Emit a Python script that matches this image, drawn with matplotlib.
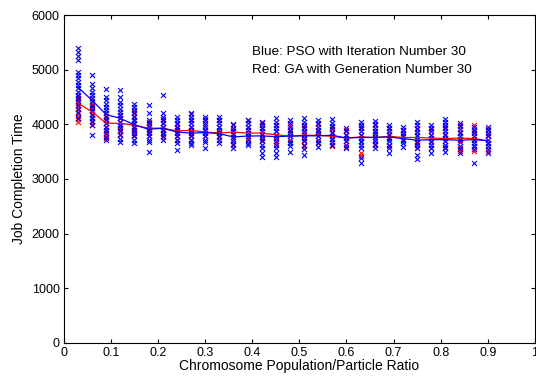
import matplotlib.pyplot as plt
import numpy as np

plt.rcParams['font.family'] = ['Liberation Sans', 'DejaVu Sans']

ratio = [0.03, 0.06, 0.09, 0.12, 0.15, 0.18, 0.21, 0.24, 0.27, 0.30,
         0.33, 0.36, 0.39, 0.42, 0.45, 0.48, 0.51, 0.54, 0.57, 0.60,
         0.63, 0.66, 0.69, 0.72, 0.75, 0.78, 0.81, 0.84, 0.87, 0.90]

# mean curves
pso_mean = [4680, 4440, 4180, 4110, 3990, 3910, 3930, 3860, 3840, 3850,
            3830, 3770, 3785, 3790, 3775, 3785, 3790, 3790, 3800, 3750,
            3760, 3760, 3770, 3740, 3710, 3720, 3720, 3710, 3720, 3700]
ga_mean = [4390, 4230, 4020, 4020, 3985, 3930, 3930, 3880, 3890, 3860,
           3840, 3860, 3840, 3840, 3810, 3785, 3800, 3800, 3780, 3750,
           3770, 3760, 3780, 3760, 3760, 3750, 3740, 3750, 3740, 3700]

# individual runs (blue = PSO)
pso_runs = [
    [5390, 5320, 5250, 5170, 4960, 4900, 4840, 4780, 4720, 4660, 4600, 4540, 4480, 4420, 4350, 4280, 4200, 4120],
    [4900, 4730, 4660, 4600, 4540, 4480, 4420, 4360, 4300, 4240, 4180, 4120, 4060, 3990, 3800],
    [4650, 4500, 4440, 4380, 4320, 4260, 4200, 4140, 4080, 4020, 3960, 3900, 3840, 3770, 3710],
    [4620, 4500, 4410, 4350, 4290, 4230, 4170, 4110, 4050, 3990, 3930, 3870, 3800, 3740, 3680],
    [4380, 4320, 4260, 4200, 4140, 4080, 4020, 3960, 3900, 3840, 3780, 3720, 3660],
    [4350, 4200, 4080, 4020, 3960, 3900, 3840, 3780, 3720, 3680, 3500],
    [4530, 4200, 4140, 4080, 4020, 3960, 3900, 3840, 3780, 3710],
    [4140, 4080, 4020, 3960, 3900, 3840, 3780, 3720, 3650, 3530],
    [4200, 4140, 4080, 4020, 3960, 3900, 3840, 3780, 3720, 3660, 3620],
    [4140, 4080, 4020, 3960, 3900, 3840, 3780, 3720, 3680, 3570],
    [4140, 4080, 4020, 3960, 3900, 3840, 3780, 3720, 3650],
    [4000, 3940, 3880, 3820, 3760, 3700, 3640, 3570],
    [4080, 4020, 3960, 3900, 3840, 3780, 3720, 3660, 3620],
    [4050, 3990, 3930, 3870, 3810, 3750, 3690, 3630, 3560, 3480, 3410],
    [4110, 4050, 3990, 3930, 3870, 3810, 3750, 3690, 3630, 3560, 3480, 3410],
    [4080, 4020, 3960, 3900, 3840, 3780, 3720, 3660, 3600, 3500],
    [4110, 4050, 3990, 3930, 3870, 3810, 3750, 3690, 3620, 3540, 3440],
    [4080, 4020, 3960, 3900, 3840, 3780, 3720, 3660, 3590],
    [4090, 4030, 3970, 3910, 3850, 3790, 3730, 3670, 3620],
    [3930, 3870, 3810, 3750, 3690, 3630, 3560],
    [4050, 3990, 3930, 3870, 3810, 3750, 3690, 3630, 3570, 3380, 3290],
    [4060, 4000, 3940, 3880, 3820, 3760, 3700, 3640, 3570],
    [3990, 3930, 3870, 3810, 3750, 3690, 3630, 3560, 3470],
    [3960, 3900, 3840, 3780, 3720, 3660, 3590],
    [4040, 3980, 3920, 3860, 3800, 3740, 3680, 3620, 3560, 3440, 3360],
    [3990, 3930, 3870, 3810, 3750, 3690, 3630, 3560, 3480],
    [4100, 4050, 3990, 3930, 3870, 3810, 3750, 3690, 3630, 3560, 3500],
    [4030, 3970, 3910, 3850, 3790, 3730, 3670, 3610, 3540, 3480],
    [3960, 3900, 3840, 3780, 3720, 3660, 3600, 3540, 3290],
    [3960, 3900, 3840, 3780, 3720, 3660, 3600, 3540, 3480],
]

# individual runs (red = GA)
ga_runs = [
    [4520, 4460, 4400, 4340, 4280, 4220, 4160, 4100, 4040],
    [4400, 4330, 4260, 4190, 4120, 4050, 3990],
    [4160, 4090, 4020, 3950, 3880, 3810, 3750],
    [4180, 4110, 4040, 3970, 3900, 3830],
    [4230, 4150, 4080, 4010, 3940, 3870, 3800],
    [4050, 3980, 3920, 3860, 3790],
    [4100, 4030, 3960, 3890, 3820, 3760],
    [4000, 3930, 3860, 3790, 3720],
    [4190, 4080, 3960, 3880, 3800, 3720],
    [4100, 3980, 3880, 3780],
    [4080, 3960, 3860, 3760],
    [3980, 3900, 3820, 3740, 3620],
    [4080, 3950, 3850, 3750],
    [4030, 3930, 3830, 3720],
    [3980, 3880, 3780, 3650],
    [3990, 3880, 3780, 3680],
    [3950, 3850, 3720, 3600],
    [4000, 3880, 3780, 3680],
    [3960, 3860, 3740, 3630, 3600],
    [3900, 3800, 3700, 3580],
    [3960, 3800, 3680, 3470, 3420],
    [3980, 3860, 3740, 3620],
    [3930, 3830, 3730, 3600],
    [3900, 3800, 3700],
    [3930, 3780, 3650, 3560],
    [3920, 3800, 3680, 3560],
    [3950, 3830, 3700, 3580],
    [3980, 3860, 3720, 3560, 3510],
    [3990, 3870, 3740, 3600, 3520],
    [3920, 3800, 3660, 3520],
]

fig = plt.figure(figsize=(5.36, 3.78), dpi=100)
ax = fig.add_axes([0.119, 0.093, 0.879, 0.867])

for xv, vals in zip(ratio, ga_runs):
    ax.scatter([xv] * len(vals), vals, marker='x', s=13, c='#ff0000', linewidths=0.8)
for xv, vals in zip(ratio, pso_runs):
    ax.scatter([xv] * len(vals), vals, marker='x', s=13, c='#0000ff', linewidths=0.8)

ax.plot(ratio, ga_mean, color='#ff0000', lw=0.9)
ax.plot(ratio, pso_mean, color='#0000ff', lw=0.9)

ax.set_xlim(0, 1)
ax.set_ylim(0, 6000)
ax.set_xticks(np.arange(0, 1.01, 0.1))
ax.set_xticklabels(['0', '0.1', '0.2', '0.3', '0.4', '0.5', '0.6', '0.7', '0.8', '0.9', '1'])
ax.set_yticks(range(0, 6001, 1000))
ax.tick_params(direction='in', top=True, right=True, labelsize=9, length=3, pad=3)
ax.set_xlabel('Chromosome Population/Particle Ratio', fontsize=10, labelpad=0)
ax.set_ylabel('Job Completion Time', fontsize=10, labelpad=4)

ax.text(0.40, 5320, 'Blue: PSO with Iteration Number 30', fontsize=9.7, va='center')
ax.text(0.40, 4990, 'Red: GA with Generation Number 30', fontsize=9.7, va='center')

fig.savefig('out.png', dpi=100)
